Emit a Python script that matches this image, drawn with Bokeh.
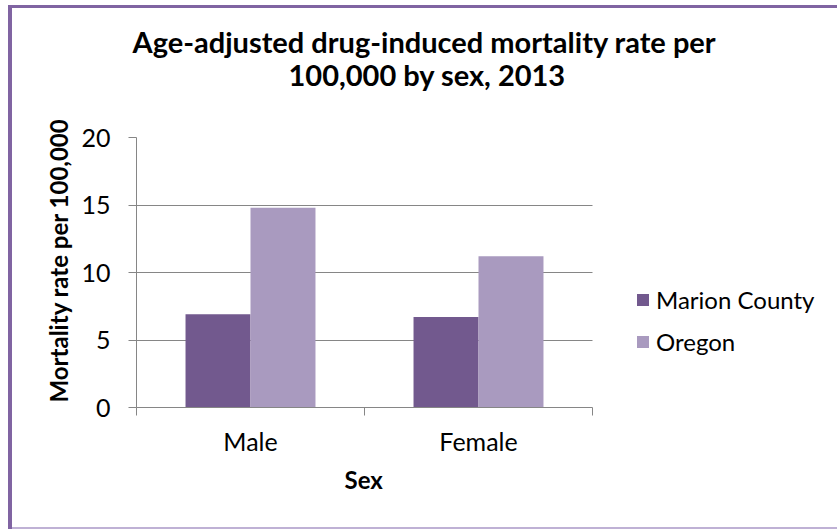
from bokeh.plotting import figure
from bokeh.models import (ColumnDataSource, FactorRange, Range1d, LinearAxis,
                          CategoricalAxis, FixedTicker, Legend, LegendItem, Title)
from bokeh.transform import dodge
from bokeh.embed import file_html
from bokeh.resources import INLINE

categories = ["Male", "Female"]
marion = [6.9, 6.7]
oregon = [14.8, 11.2]
series_names = ["Marion County", "Oregon"]
y_ticks = [0, 5, 10, 15, 20]
legend_slot = " "   # empty category slot on the right that holds the legend

FONT = "Lato"
GRAY = "#868686"
DARK = "#72598E"
LIGHT = "#A99ABF"

W, H = 825, 519
FL, FT, FH = 124, 129, 270
FW = 684

src = ColumnDataSource(data=dict(cat=categories, marion=marion, oregon=oregon))

p = figure(width=W, height=H, output_backend="svg", toolbar_location=None,
           x_range=FactorRange(factors=categories + [legend_slot], range_padding=0,
                               factor_padding=0),
           y_range=Range1d(0, 20), x_axis_location=None, y_axis_location=None,
           min_border_left=FL, min_border_right=W - FL - FW,
           min_border_top=FT, min_border_bottom=H - FT - FH)
p.margin = (8, 0, 0, 12)
p.styles = {"box-shadow": "0 2px 0 0 #BFB1D5, -4px -3px 0 0 #8064A2, "
                          "0 -3px 0 0 #8064A2, -4px 2px 0 0 #8064A2"}
p.outline_line_color = None
p.background_fill_color = "white"
p.border_fill_color = "white"
p.xgrid.grid_line_color = None

# horizontal grid limited to the two categories
grid_ok = False
try:
    p.ygrid.cross_bounds = (0, 2)
    grid_ok = True
except Exception:
    grid_ok = False
if grid_ok:
    p.ygrid.ticker = FixedTicker(ticks=y_ticks)
    p.ygrid.grid_line_color = GRAY
else:
    p.ygrid.grid_line_color = None
    gsrc = ColumnDataSource(data=dict(y=y_ticks, a=[categories[0]] * len(y_ticks),
                                      b=[categories[-1]] * len(y_ticks)))
    p.segment(x0=dodge("a", -0.5, range=p.x_range), y0="y",
              x1=dodge("b", 0.5, range=p.x_range), y1="y",
              source=gsrc, line_color=GRAY, line_width=1)

r1 = p.vbar(x=dodge("cat", -0.1425, range=p.x_range), top="marion", width=0.285,
            source=src, fill_color=DARK, line_color=None)
r2 = p.vbar(x=dodge("cat", 0.1425, range=p.x_range), top="oregon", width=0.285,
            source=src, fill_color=LIGHT, line_color=None)

# y axis
yax = LinearAxis(ticker=FixedTicker(ticks=y_ticks))
yax.axis_line_color = GRAY
yax.major_tick_line_color = GRAY
yax.major_tick_out = 8
yax.major_tick_in = 0
yax.minor_tick_line_color = None
yax.major_label_text_font = FONT
yax.major_label_text_font_size = "25px"
yax.major_label_text_color = "black"
yax.major_label_standoff = 18
p.add_layout(yax, "left")

# boundary ticks between categories
tax = LinearAxis(ticker=FixedTicker(ticks=[0, 1, 2]), bounds=(0, 2))
tax.axis_line_color = GRAY
tax.major_tick_line_color = GRAY
tax.major_tick_out = 8
tax.major_tick_in = 0
tax.minor_tick_line_color = None
tax.major_label_text_font_size = "0px"
tax.major_label_standoff = 0
tax.major_label_overrides = {0: "", 1: "", 2: ""}
p.add_layout(tax, "below")

# category labels axis
cax = CategoricalAxis(bounds=(0, 2))
cax.axis_line_color = None
cax.major_tick_line_color = None
cax.minor_tick_line_color = None
cax.major_label_text_font = FONT
cax.major_label_text_font_size = "25px"
cax.major_label_text_color = "black"
cax.major_label_standoff = 4
p.add_layout(cax, "below")

# x title, centred under the two categories
xt = Title(text="Sex", align="left", offset=208, vertical_align="top",
           text_font=FONT, text_font_style="bold", text_font_size="24px",
           text_color="black", standoff=12)
p.add_layout(xt, "below")

# y title
yt = Title(text="Mortality rate per 100,000", align="left", offset=5,
           text_font=FONT, text_font_style="bold", text_font_size="24px",
           text_color="black", standoff=12)
p.add_layout(yt, "left")

# main title (two lines)
t2 = Title(text="100,000 by sex, 2013", align="left", offset=152, text_font=FONT,
           text_font_style="bold", text_font_size="29px", text_color="black", standoff=92)
t1 = Title(text="Age-adjusted drug-induced mortality rate per", align="left", offset=-4,
           text_font=FONT, text_font_style="bold", text_font_size="29px",
           text_color="black", standoff=-100)
p.add_layout(t2, "above")
p.add_layout(t1, "above")

legend = Legend(items=[LegendItem(label=series_names[0], renderers=[r1]),
                       LegendItem(label=series_names[1], renderers=[r2])],
                location=(499, 51), orientation="vertical")
legend.margin = 0
legend.padding = 0
legend.border_line_color = None
legend.background_fill_alpha = 0
legend.glyph_width = 15
legend.glyph_height = 15
legend.label_standoff = 6
legend.spacing = 13
legend.label_text_font = FONT
legend.label_text_font_size = "24px"
legend.label_text_color = "black"
p.add_layout(legend, "center")

open("out.html", "w").write(file_html(p, INLINE))
